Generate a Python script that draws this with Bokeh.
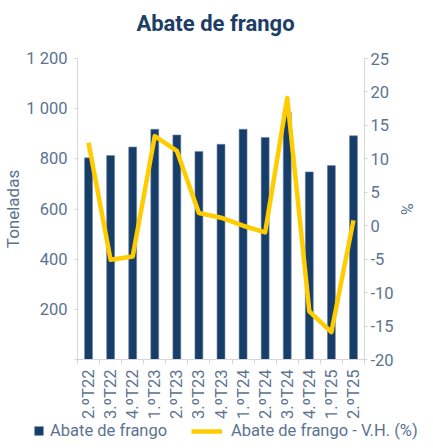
import math
from bokeh.plotting import figure
from bokeh.layouts import column
from bokeh.models import (Range1d, LinearAxis, FixedTicker, Legend, LegendItem,
                          ColumnDataSource, Title, Label)
from bokeh.embed import file_html
from bokeh.resources import INLINE

categories = ["2.ºT22", "3.ºT22", "4.ºT22", "1.ºT23", "2.ºT23", "3.ºT23", "4.ºT23",
              "1.ºT24", "2.ºT24", "3.ºT24", "4.ºT24", "1.ºT25", "2.ºT25"]
tonnes = [804, 813, 847, 918, 895, 829, 858, 918, 885, 985, 748, 773, 892]
yoy_pct = [12.4, -5.1, -4.6, 13.4, 11.2, 1.9, 1.2, 0.0, -1.0, 19.1, -12.8, -15.9, 0.8]
left_ticks = [0, 200, 400, 600, 800, 1000, 1200]
left_labels = ["", "200", "400", "600", "800", "1 000", "1 200"]
right_ticks = [-20, -15, -10, -5, 0, 5, 10, 15, 20, 25]
right_labels = ["-20", "-15", "-10", "-5", "0", "5", "10", "15", "20", "25"]
chart_title = "Abate de frango"
bar_name = "Abate de frango"
line_name = "Abate de frango - V.H. (%)"

NAVY = "#173e69"
YELLOW = "#ffcc00"
TICK = "#5b7391"
AXIS = "#d6d6d6"
FONT = "Roboto"
W = 417


def strip(height):
    f = figure(width=W, height=height, output_backend="svg", toolbar_location=None,
               title_location=None, x_axis_location=None, y_axis_location=None,
               min_border=0, x_range=Range1d(100, 101), y_range=Range1d(5000, 5001))
    f.frame_align = False
    f.outline_line_color = None
    f.xgrid.grid_line_color = None
    f.ygrid.grid_line_color = None
    return f


xs = list(range(len(categories)))
src = ColumnDataSource(dict(x=xs, t=tonnes, v=yoy_pct))

# title strip
tf = strip(40)
tf.add_layout(Label(x=215, y=17, x_units="screen", y_units="screen", text=chart_title,
                    text_align="center", text_baseline="middle", text_font=FONT,
                    text_font_size="22px", text_font_style="bold", text_color="#1b3d66"))

# main chart
p = figure(width=W, height=382, output_backend="svg", toolbar_location=None,
           title_location=None,
           x_range=Range1d(-0.5, len(categories) - 0.5), y_range=Range1d(0, 1200),
           min_border_top=18, min_border_left=72, min_border_right=40, min_border_bottom=57)
p.frame_align = False
p.extra_y_ranges = {"pct": Range1d(-20, 25)}
p.outline_line_color = None
p.xgrid.grid_line_color = None
p.ygrid.grid_line_color = None

bar_style = dict(width=0.36, fill_color=NAVY, line_color="#6f87a6", line_width=0.6)
line_style = dict(line_color=YELLOW, line_width=4.5, line_join="round")
bars = p.vbar(x="x", top="t", source=src, **bar_style)
line = p.line(x="x", y="v", source=src, y_range_name="pct", **line_style)

# x axis
xa = p.xaxis[0]
xa.ticker = FixedTicker(ticks=xs, minor_ticks=[i - 0.5 for i in range(len(categories) + 1)])
xa.major_label_overrides = {i: c for i, c in enumerate(categories)}
xa.major_label_orientation = math.pi / 2
xa.major_tick_line_color = None
xa.minor_tick_line_color = AXIS
xa.minor_tick_out = 5
xa.minor_tick_in = 0
xa.axis_line_color = AXIS
xa.major_label_text_font = FONT
xa.major_label_text_font_size = "16.5px"
xa.major_label_text_color = TICK
xa.major_label_standoff = 4

# left axis
ya = p.yaxis[0]
ya.ticker = FixedTicker(ticks=left_ticks, minor_ticks=[])
ya.major_label_overrides = dict(zip(left_ticks, left_labels))
ya.axis_label = "Toneladas"
ya.axis_label_text_font = FONT
ya.axis_label_text_font_size = "17px"
ya.axis_label_text_font_style = "normal"
ya.axis_label_text_color = TICK
ya.axis_label_standoff = 0
ya.major_label_text_font = FONT
ya.major_label_text_font_size = "16.5px"
ya.major_label_text_color = TICK
ya.major_label_standoff = 7
ya.major_tick_out = 3
ya.major_tick_in = 0
ya.major_tick_line_color = AXIS
ya.minor_tick_line_color = None
ya.axis_line_color = AXIS

# right axis
ra = LinearAxis(y_range_name="pct", ticker=FixedTicker(ticks=right_ticks, minor_ticks=[]))
ra.major_label_overrides = dict(zip(right_ticks, right_labels))
ra.major_label_text_font = FONT
ra.major_label_text_font_size = "16.5px"
ra.major_label_text_color = TICK
ra.major_label_standoff = 3
ra.major_tick_out = 3
ra.major_tick_in = 0
ra.major_tick_line_color = AXIS
ra.minor_tick_line_color = None
ra.axis_line_color = AXIS
p.add_layout(ra, "right")
p.add_layout(Title(text="%", align="center", text_font=FONT, text_font_size="16px",
                   text_font_style="normal", text_color=TICK, standoff=0), "right")

# legend strip
lf = strip(18)
lbars = lf.vbar(x="x", top="t", source=src, **bar_style)
lline = lf.line(x="x", y="v", source=src, **line_style)
common = dict(orientation="horizontal", label_text_font=FONT, label_text_font_size="16.5px",
              label_text_color=TICK, padding=0, margin=0, border_line_color=None,
              background_fill_alpha=0, label_height=18)
leg_bar = Legend(items=[LegendItem(label=bar_name, renderers=[lbars])],
                 location=(33, 0), glyph_width=11, glyph_height=11,
                 label_standoff=6, **common)
leg_line = Legend(items=[LegendItem(label=line_name, renderers=[lline])],
                  location=(191, 0), glyph_width=31, glyph_height=18,
                  label_standoff=9, **common)
lf.add_layout(leg_bar, "center")
lf.add_layout(leg_line, "center")

layout = column(tf, p, lf, spacing=0)
open("out.html", "w").write(file_html(layout, INLINE))
